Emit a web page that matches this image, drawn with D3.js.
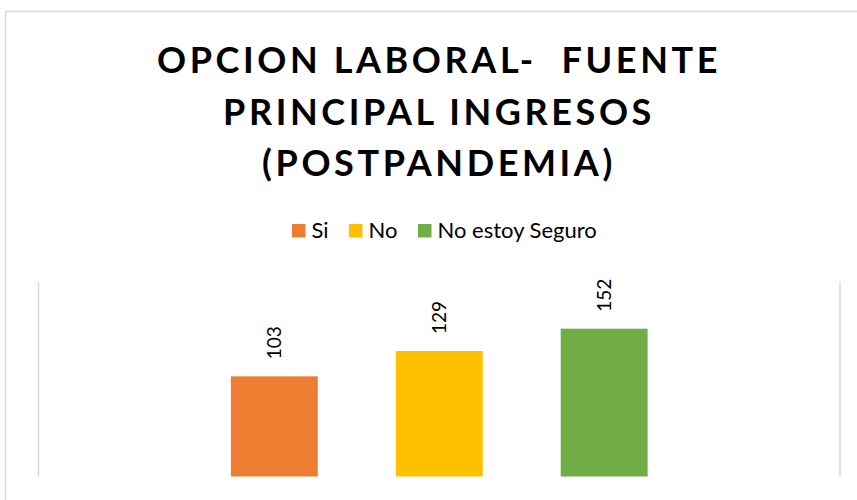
<!DOCTYPE html>
<html>
<head>
<meta charset="utf-8">
<script src="https://cdn.jsdelivr.net/npm/d3@7"></script>
<style>
  body { margin: 0; background: #fff; }
  svg { display: block; font-family: Lato, "Open Sans", sans-serif; }
</style>
</head>
<body>
<div id="chart"></div>
<script>
// data
const titleLines = ["OPCION LABORAL-  FUENTE", "PRINCIPAL INGRESOS", "(POSTPANDEMIA)"];
const categories = ["Opcion laboral"];
const series = ["Si", "No", "No estoy Seguro"];
const values = [103, 129, 152];
const colors = ["#ED7D31", "#FFC000", "#70AD47"];
const yMax = 200;

let w = 857, h = 500;

let svg = d3.select("#chart")
    .append("svg")
    .attr("width", w)
    .attr("height", h);

// chart area border (runs off the right and bottom edge)
svg.append("rect")
    .attr("x", 5.5)
    .attr("y", 11.5)
    .attr("width", w + 20)
    .attr("height", h + 20)
    .attr("fill", "none")
    .attr("stroke", "#d9d9d9")
    .attr("stroke-width", 1.5);

// title
svg.append("g")
    .selectAll("text")
    .data(titleLines)
    .enter()
    .append("text")
    .attr("x", 439)
    .attr("y", function (d, i) { return 73 + i * 51.5; })
    .attr("text-anchor", "middle")
    .style("white-space", "pre")
    .style("font-size", "36px")
    .style("font-weight", "bold")
    .style("letter-spacing", "3.6px")
    .style("fill", "#000")
    .text(function (d) { return d; });

// legend
let legendX = [292, 349, 418];
let legend = svg.selectAll(".legend")
    .data(series)
    .enter()
    .append("g")
    .attr("class", "legend")
    .attr("transform", function (d, i) { return "translate(" + legendX[i] + ",224)"; });
legend.append("rect")
    .attr("width", 13.5)
    .attr("height", 13.5)
    .style("fill", function (d, i) { return colors[i]; });
legend.append("text")
    .attr("x", 19.5)
    .attr("y", 14)
    .style("font-size", "22px")
    .style("fill", "#000")
    .text(function (d) { return d; });

// scales
let plotLeft = 38.5, plotRight = 840, plotTop = 282, plotBottom = 476.5;

let x0 = d3.scaleBand()
    .domain(categories)
    .range([plotLeft, plotRight])
    .paddingOuter(0.31);

let x1 = d3.scaleBand()
    .domain(series)
    .range([x0(categories[0]), x0(categories[0]) + x0.bandwidth()])
    .paddingInner(0.473)
    .paddingOuter(0.2365);

let y = d3.scaleLinear()
    .domain([0, yMax])
    .range([plotBottom, plotTop]);

// vertical gridlines at the category edges
svg.selectAll(".vgrid")
    .data(x0.range())
    .enter()
    .append("line")
    .attr("class", "vgrid")
    .attr("x1", function (d) { return d; })
    .attr("x2", function (d) { return d; })
    .attr("y1", y(yMax))
    .attr("y2", y(0))
    .attr("stroke", "#d9d9d9")
    .attr("stroke-width", 1.5);

// bars
svg.selectAll(".bar")
    .data(values)
    .enter()
    .append("rect")
    .attr("class", "bar")
    .attr("x", function (d, i) { return x1(series[i]); })
    .attr("y", function (d) { return y(d); })
    .attr("width", x1.bandwidth())
    .attr("height", function (d) { return y(0) - y(d); })
    .style("fill", function (d, i) { return colors[i]; });

// rotated value labels
svg.selectAll(".label")
    .data(values)
    .enter()
    .append("text")
    .attr("class", "label")
    .attr("transform", function (d, i) {
        return "translate(" + (x1(series[i]) + x1.bandwidth() / 2) + "," + (y(d) - 17) + ") rotate(-90)";
    })
    .attr("dy", "0.36em")
    .attr("text-anchor", "start")
    .style("font-size", "19px")
    .style("fill", "#000")
    .text(function (d) { return d; });
</script>
</body>
</html>
